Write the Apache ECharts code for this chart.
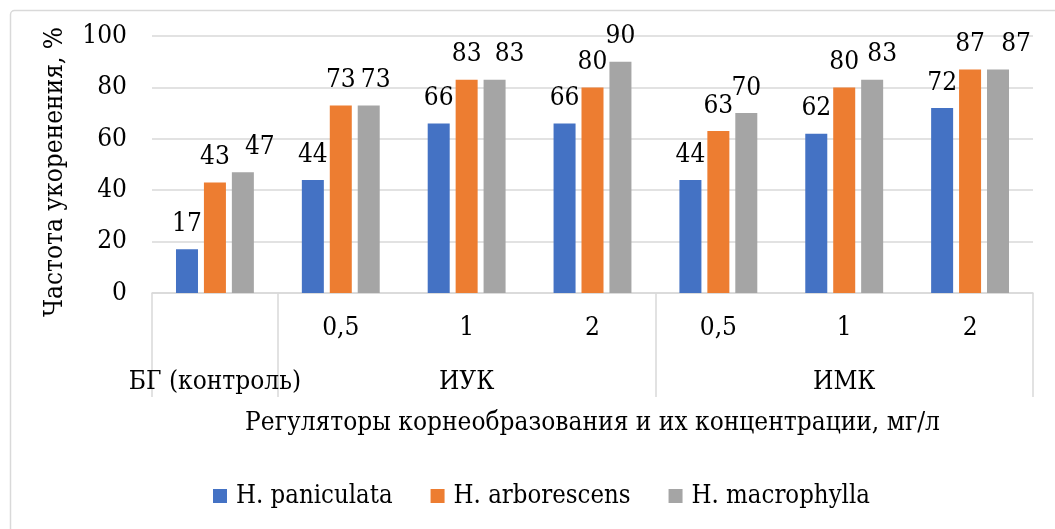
<!DOCTYPE html>
<html>
<head>
<meta charset="utf-8">
<script src="https://cdn.jsdelivr.net/npm/echarts@6/dist/echarts.min.js"></script>
<style>
html,body{margin:0;padding:0;background:#fff;}
#c{width:1055px;height:529px;}
</style>
</head>
<body>
<div id="c"></div>
<script>
// ---- data ----
const concentrations = ['', '0,5', '1', '2', '0,5', '1', '2'];
const groups = ['БГ (контроль)', '', 'ИУК', '', '', 'ИМК', ''];
const seriesNames = ['H. paniculata', 'H. arborescens', 'H. macrophylla'];
const paniculata = [17, 44, 66, 66, 44, 62, 72];
const arborescens = [43, 73, 83, 80, 63, 80, 87];
const macrophylla = [47, 73, 83, 90, 70, 83, 87];
const yTicks = [0, 20, 40, 60, 80, 100];
const xTitle = 'Регуляторы корнеобразования и их концентрации, мг/л';
const yTitle = 'Частота укоренения, %';

const colors = ['#4472C4', '#ED7D31', '#A5A5A5'];
const font = '"DejaVu Serif Condensed", "DejaVu Serif"';
const fs = 26;
// horizontal label nudges (Excel moved some labels to avoid overlap)
const grayShift = [17, 7, 15, 0, 0, 10, 18];

function mkSeries(name, vals, ci, shifts) {
  return {
    name: name,
    type: 'bar',
    barWidth: 22,
    barGap: '27%',
    itemStyle: { color: colors[ci] },
    label: {
      show: true, position: 'top', distance: 12,
      fontFamily: font, fontSize: fs, color: '#000'
    },
    data: vals.map((v, i) => shifts && shifts[i] ? { value: v, label: { offset: [shifts[i], 0] } } : v)
  };
}

const chart = echarts.init(document.getElementById('c'));
chart.setOption({
  animation: false,
  backgroundColor: '#fff',
  textStyle: { fontFamily: font },
  graphic: [{
    type: 'rect', left: 8, top: 8, silent: true,
    shape: { width: 1200, height: 700, r: 4 },
    style: { fill: null, stroke: '#d9d9d9', lineWidth: 1.5 }
  }],
  grid: { left: 152, right: 22, top: 36, bottom: 236, containLabel: false },
  legend: {
    bottom: 20, left: 213, padding: 0,
    itemWidth: 14, itemHeight: 14, itemGap: 38,
    icon: 'rect',
    textStyle: { fontFamily: font, fontSize: 25.5, color: '#000', padding: [0, 0, 0, 4] },
    data: seriesNames
  },
  xAxis: [{
    type: 'category',
    data: concentrations,
    position: 'bottom',
    axisLine: { lineStyle: { color: '#d9d9d9', width: 1.5 } },
    axisTick: {
      show: true, length: 104,
      interval: (idx) => idx === 0 || idx === 1 || idx === 4,
      lineStyle: { color: '#d9d9d9', width: 1.5 }
    },
    axisLabel: { interval: 0, margin: 22, fontFamily: font, fontSize: fs, color: '#000' },
    name: xTitle,
    nameLocation: 'middle',
    nameGap: 117,
    nameTextStyle: { fontFamily: font, fontSize: 26, color: '#000' }
  }, {
    type: 'category',
    data: groups,
    position: 'bottom',
    offset: 54,
    axisLine: { show: false },
    axisTick: { show: false },
    axisLabel: { interval: 0, margin: 22, fontFamily: font, fontSize: fs, color: '#000' }
  }],
  yAxis: {
    type: 'value',
    min: yTicks[0], max: yTicks[yTicks.length - 1], interval: 20,
    axisLine: { show: false },
    axisTick: { show: false },
    splitLine: { lineStyle: { color: '#d9d9d9', width: 1.5 } },
    axisLabel: { margin: 25, fontFamily: font, fontSize: fs, color: '#000' },
    name: yTitle,
    nameLocation: 'middle',
    nameGap: 84,
    nameRotate: 90,
    nameTextStyle: { fontFamily: font, fontSize: 26, color: '#000', padding: [0, 15, 0, 0] }
  },
  series: [
    mkSeries(seriesNames[0], paniculata, 0),
    mkSeries(seriesNames[1], arborescens, 1),
    mkSeries(seriesNames[2], macrophylla, 2, grayShift)
  ]
});
</script>
</body>
</html>
